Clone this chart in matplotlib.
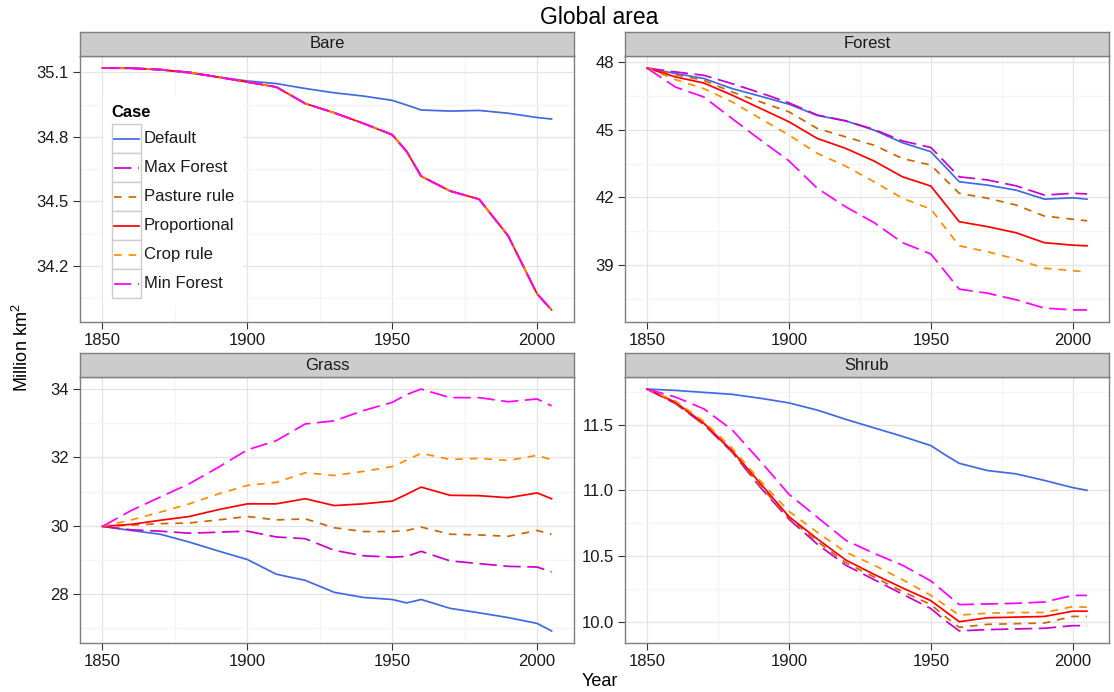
import matplotlib
matplotlib.use("Agg")
import matplotlib.pyplot as plt
from matplotlib.ticker import FixedLocator, AutoMinorLocator, FormatStrFormatter
from matplotlib.patches import Rectangle

plt.rcParams['font.family'] = ['Liberation Sans', 'DejaVu Sans']
plt.rcParams['mathtext.fontset'] = 'custom'
plt.rcParams['mathtext.rm'] = 'Liberation Sans'
plt.rcParams['mathtext.default'] = 'rm'

# ---------------- data (million km2) ----------------
years = [1850, 1860, 1870, 1880, 1890, 1900, 1910, 1920, 1930, 1940,
         1950, 1955, 1960, 1970, 1980, 1990, 2000, 2005]

cases = ['Default', 'Max Forest', 'Pasture rule', 'Proportional', 'Crop rule', 'Min Forest']
colors = ['#4169E1', '#CC00CC', '#CD6600', '#FF0000', '#FF8C00', '#FF00FF']
styles = ['solid', 'longdash', 'dashed', 'solid', 'dashed', 'longdash']

bare_alt = [35.12, 35.12, 35.113, 35.10, 35.078, 35.055, 35.032, 34.955, 34.912, 34.863,
            34.81, 34.732, 34.617, 34.548, 34.51, 34.34, 34.07, 33.995]
bare = {
    'Default': [35.12, 35.118, 35.112, 35.097, 35.078, 35.06, 35.048, 35.025, 35.005, 34.99,
                34.97, 34.948, 34.925, 34.92, 34.923, 34.91, 34.89, 34.883],
    'Max Forest': bare_alt,
    'Pasture rule': bare_alt,
    'Proportional': bare_alt,
    'Crop rule': bare_alt,
    'Min Forest': bare_alt,
}

forest = {
    'Default': [47.73, 47.49, 47.27, 46.82, 46.48, 46.13, 45.63, 45.39, 44.98, 44.42,
                44.02, 43.36, 42.69, 42.54, 42.32, 41.92, 41.98, 41.92],
    'Max Forest': [47.73, 47.56, 47.41, 47.04, 46.63, 46.19, 45.65, 45.39, 45.01, 44.50,
                   44.21, 43.56, 42.91, 42.77, 42.51, 42.10, 42.18, 42.15],
    'Pasture rule': [47.73, 47.44, 47.19, 46.67, 46.23, 45.79, 45.05, 44.68, 44.31, 43.72,
                     43.43, 42.80, 42.18, 41.96, 41.66, 41.17, 41.03, 40.96],
    'Proportional': [47.73, 47.34, 47.07, 46.53, 45.94, 45.35, 44.61, 44.17, 43.61, 42.91,
                     42.50, 41.71, 40.92, 40.70, 40.43, 39.99, 39.88, 39.85],
    'Crop rule': [47.73, 47.22, 46.82, 46.23, 45.49, 44.76, 43.95, 43.38, 42.69, 41.96,
                  41.48, 40.66, 39.85, 39.59, 39.26, 38.86, 38.75, 38.69],
    'Min Forest': [47.73, 46.89, 46.45, 45.49, 44.54, 43.62, 42.40, 41.58, 40.88, 39.99,
                   39.49, 38.71, 37.93, 37.75, 37.46, 37.09, 37.01, 37.01],
}

grass = {
    'Default': [29.98, 29.86, 29.75, 29.52, 29.26, 29.01, 28.58, 28.40, 28.05, 27.90,
                27.84, 27.74, 27.84, 27.58, 27.45, 27.31, 27.14, 26.92],
    'Max Forest': [29.98, 29.88, 29.84, 29.78, 29.81, 29.84, 29.67, 29.62, 29.28, 29.12,
                   29.08, 29.10, 29.25, 28.97, 28.89, 28.81, 28.79, 28.65],
    'Pasture rule': [29.98, 30.02, 30.06, 30.08, 30.17, 30.27, 30.17, 30.20, 29.94, 29.83,
                     29.83, 29.86, 29.96, 29.75, 29.73, 29.69, 29.86, 29.75],
    'Proportional': [29.98, 30.04, 30.16, 30.27, 30.47, 30.64, 30.64, 30.79, 30.59, 30.64,
                     30.72, 30.92, 31.13, 30.89, 30.88, 30.82, 30.96, 30.79],
    'Crop rule': [29.98, 30.17, 30.40, 30.64, 30.93, 31.18, 31.27, 31.55, 31.47, 31.59,
                  31.73, 31.92, 32.12, 31.94, 31.97, 31.91, 32.06, 31.93],
    'Min Forest': [29.98, 30.45, 30.84, 31.23, 31.71, 32.22, 32.49, 32.98, 33.07, 33.37,
                   33.61, 33.84, 34.00, 33.75, 33.75, 33.63, 33.71, 33.51],
}

shrub = {
    'Default': [11.77, 11.76, 11.745, 11.73, 11.70, 11.665, 11.61, 11.54, 11.475, 11.41,
                11.34, 11.27, 11.205, 11.15, 11.125, 11.075, 11.02, 11.00],
    'Max Forest': [11.77, 11.66, 11.50, 11.29, 11.02, 10.78, 10.59, 10.43, 10.32, 10.21,
                   10.10, 10.01, 9.93, 9.94, 9.945, 9.95, 9.97, 9.97],
    'Pasture rule': [11.77, 11.665, 11.505, 11.295, 11.03, 10.79, 10.61, 10.45, 10.34, 10.23,
                     10.13, 10.04, 9.957, 9.98, 9.985, 9.99, 10.04, 10.04],
    'Proportional': [11.77, 11.67, 11.51, 11.30, 11.05, 10.80, 10.63, 10.47, 10.36, 10.257,
                     10.16, 10.08, 10.00, 10.03, 10.035, 10.04, 10.08, 10.08],
    'Crop rule': [11.77, 11.68, 11.525, 11.32, 11.07, 10.84, 10.68, 10.53, 10.43, 10.32,
                  10.20, 10.125, 10.05, 10.065, 10.07, 10.07, 10.115, 10.11],
    'Min Forest': [11.77, 11.71, 11.62, 11.46, 11.22, 10.97, 10.795, 10.62, 10.52, 10.43,
                   10.31, 10.22, 10.13, 10.135, 10.14, 10.15, 10.20, 10.20],
}

panels = ['Bare', 'Forest', 'Grass', 'Shrub']
panel_data = [bare, forest, grass, shrub]
yticks = [[34.2, 34.5, 34.8, 35.1], [39, 42, 45, 48], [28, 30, 32, 34], [10.0, 10.5, 11.0, 11.5]]
yfmt = ['%.1f', '%d', '%d', '%.1f']
xticks = [1850, 1900, 1950, 2000]

# ---------------- layout (pixels of a 1114x692 canvas) ----------------
W, H = 1114, 692
fig = plt.figure(figsize=(W / 100, H / 100), dpi=100)

def box(x0, y0, x1, y1):
    return [x0 / W, 1 - y1 / H, (x1 - x0) / W, (y1 - y0) / H]

cols = [(80, 574), (625, 1109)]
rows = [(56, 322), (377, 643)]
strip_h = 24

dash = {'solid': 'solid', 'dashed': (0, (4.4, 4.0)), 'longdash': (0, (10, 3.8))}
border = '#7F7F7F'

for i, name in enumerate(panels):
    x0, x1 = cols[i % 2]
    y0, y1 = rows[i // 2]
    ax = fig.add_axes(box(x0, y0, x1, y1))
    data = panel_data[i]
    for case, col, ls in zip(cases, colors, styles):
        ax.plot(years, data[case], color=col, lw=1.25, linestyle=dash[ls])
    ax.margins(x=0.05, y=0.05)
    ax.xaxis.set_major_locator(FixedLocator(xticks))
    ax.yaxis.set_major_locator(FixedLocator(yticks[i]))
    ax.yaxis.set_major_formatter(FormatStrFormatter(yfmt[i]))
    ax.xaxis.set_minor_locator(AutoMinorLocator(2))
    ax.yaxis.set_minor_locator(AutoMinorLocator(2))
    ax.grid(which='major', color='#E5E5E5', lw=0.9)
    ax.grid(which='minor', color='#F5F5F5', lw=0.9)
    ax.set_axisbelow(True)
    ax.tick_params(which='minor', length=0)
    ax.tick_params(which='major', length=5, width=0.8, color='#333333',
                   labelsize=12, labelcolor='#1a1a1a', pad=3)
    for s in ax.spines.values():
        s.set_color(border)
        s.set_linewidth(1.0)

    sax = fig.add_axes(box(x0, y0 - strip_h, x1, y0))
    sax.set_facecolor('#CCCCCC')
    sax.set_xticks([])
    sax.set_yticks([])
    for s in sax.spines.values():
        s.set_color(border)
        s.set_linewidth(1.0)
    sax.text(0.5, 0.5, name, ha='center', va='center', fontsize=12,
             color='#1a1a1a', transform=sax.transAxes)

# ---------------- legend inside the Bare panel ----------------
lx0, ly0, lx1, ly1 = 103, 97, 243, 305
lax = fig.add_axes(box(lx0, ly0, lx1, ly1), zorder=5)
lax.set_xlim(lx0, lx1)
lax.set_ylim(ly1, ly0)
lax.axis('off')
lax.add_patch(Rectangle((lx0, ly0), lx1 - lx0, ly1 - ly0, facecolor='white', edgecolor='none'))
lax.text(111.5, 113, 'Case', fontsize=12, fontweight='bold', ha='left', va='center')
key_w, key_h, key_top, key_left = 29, 29, 124.5, 111.5
for j, (case, col, ls) in enumerate(zip(cases, colors, styles)):
    top = key_top + j * key_h
    lax.add_patch(Rectangle((key_left, top), key_w, key_h, facecolor='white',
                            edgecolor='#CCCCCC', lw=1.0))
    lax.plot([key_left + 2, key_left + key_w - 2], [top + key_h / 2] * 2,
             color=col, lw=1.25, linestyle=dash[ls])
    lax.text(key_left + key_w + 3, top + key_h / 2, case, fontsize=12,
             ha='left', va='center', color='#1a1a1a')

# ---------------- titles ----------------
fig.text(599 / W, 1 - 17 / H, 'Global area', ha='center', va='center', fontsize=16.5)
fig.text(600 / W, 1 - 681 / H, 'Year', ha='center', va='center', fontsize=13)
fig.text(22 / W, 1 - 348 / H, 'Million km$^2$', ha='center', va='center',
         rotation=90, fontsize=13)

fig.savefig('out.png', dpi=100)
